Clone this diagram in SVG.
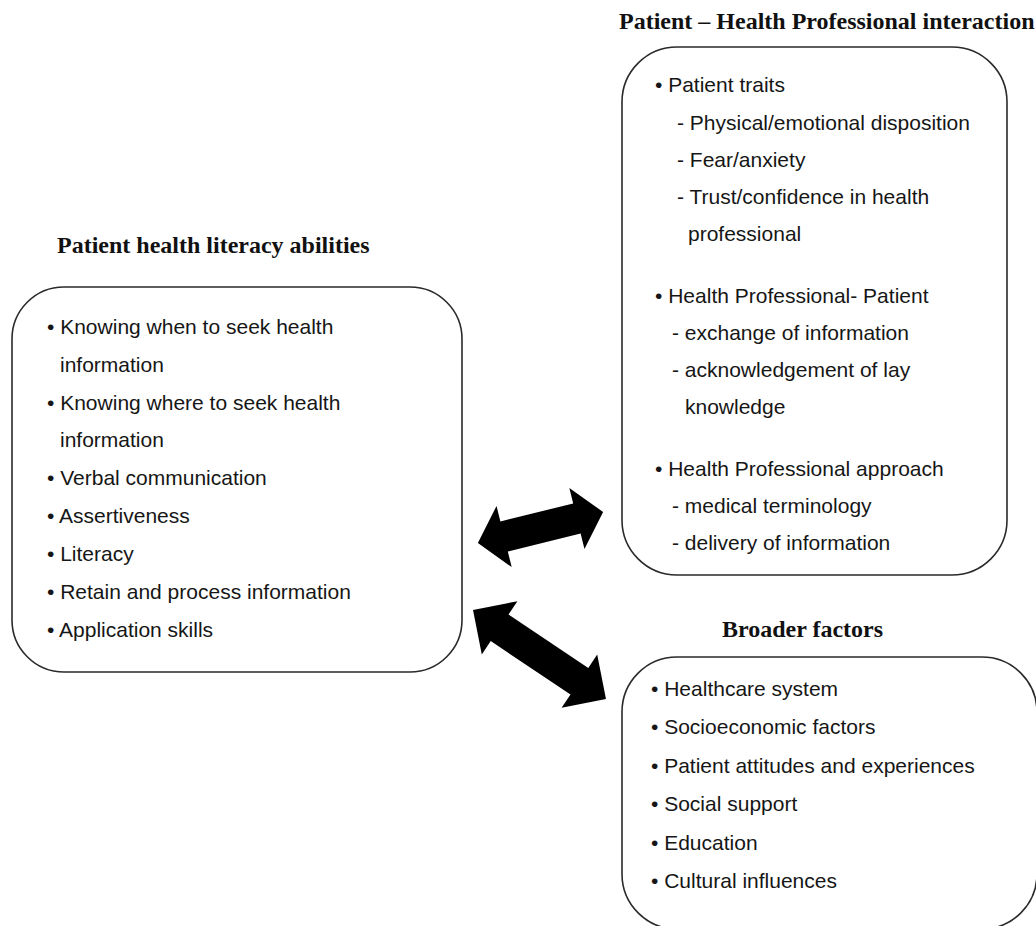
<svg xmlns="http://www.w3.org/2000/svg" width="1036" height="926" viewBox="0 0 1036 926">
<style>
.box{fill:#fff;stroke:#2a2a2a;stroke-width:1.6}
.t{font-family:"Liberation Sans",Arial,sans-serif;font-size:21px;fill:#161616}
.h{font-family:"Liberation Serif","Times New Roman",serif;font-size:24px;font-weight:bold;fill:#111}
.arrow{fill:#000;stroke:none}
</style>
<rect width="1036" height="926" fill="#fff"/>
<g id="connectors">
<polygon class="arrow" transform="translate(540.5,527.5) rotate(-13.9)" points="-64.5,0 -37.5,-31.5 -37.5,-15.5 37.5,-15.5 37.5,-31.5 64.5,0 37.5,31.5 37.5,15.5 -37.5,15.5 -37.5,31.5"/>
<polygon class="arrow" transform="translate(539.5,654.5) rotate(33.8)" points="-80,0 -48,-32 -48,-16 48,-16 48,-32 80,0 48,32 48,16 -48,16 -48,32"/>
</g>
<g id="node-literacy">
<text class="h" x="57" y="253">Patient health literacy abilities</text>
<rect class="box" x="12" y="287" width="450" height="385" rx="52" ry="52"/>
<text class="t" x="47" y="334">• Knowing when to seek health</text>
<text class="t" x="60" y="372">information</text>
<text class="t" x="47" y="410">• Knowing where to seek health</text>
<text class="t" x="60" y="447">information</text>
<text class="t" x="47" y="485">• Verbal communication</text>
<text class="t" x="47" y="523">• Assertiveness</text>
<text class="t" x="47" y="561">• Literacy</text>
<text class="t" x="47" y="599">• Retain and process information</text>
<text class="t" x="47" y="637">• Application skills</text>
</g>
<g id="node-interaction">
<text class="h" x="619" y="29">Patient – Health Professional interaction</text>
<rect class="box" x="622" y="47" width="385" height="528" rx="55" ry="55"/>
<text class="t" x="655" y="92">• Patient traits</text>
<text class="t" x="677" y="129.5">- Physical/emotional disposition</text>
<text class="t" x="677" y="166.5">- Fear/anxiety</text>
<text class="t" x="677" y="203.5">- Trust/confidence in health</text>
<text class="t" x="688" y="240.5">professional</text>
<text class="t" x="655" y="303">• Health Professional- Patient</text>
<text class="t" x="672" y="340">- exchange of information</text>
<text class="t" x="672" y="377">- acknowledgement of lay</text>
<text class="t" x="685" y="414">knowledge</text>
<text class="t" x="655" y="476">• Health Professional approach</text>
<text class="t" x="672" y="513">- medical terminology</text>
<text class="t" x="672" y="550">- delivery of information</text>
</g>
<g id="node-broader">
<text class="h" x="722" y="637">Broader factors</text>
<rect class="box" x="622" y="657" width="415" height="272" rx="55" ry="55"/>
<text class="t" x="651" y="696">• Healthcare system</text>
<text class="t" x="651" y="734">• Socioeconomic factors</text>
<text class="t" x="651" y="773">• Patient attitudes and experiences</text>
<text class="t" x="651" y="811">• Social support</text>
<text class="t" x="651" y="850">• Education</text>
<text class="t" x="651" y="888">• Cultural influences</text>
</g>
</svg>
